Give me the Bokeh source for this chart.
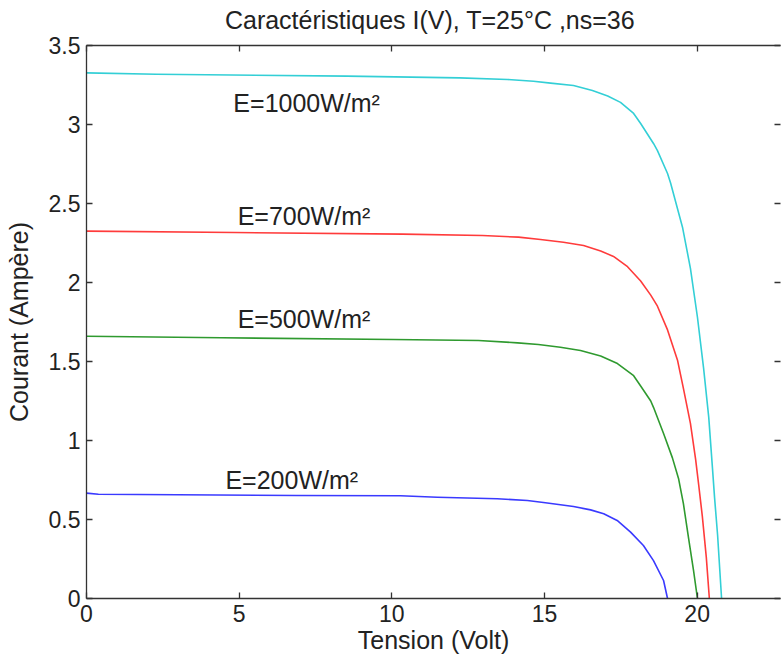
from bokeh.plotting import figure
from bokeh.models import LinearAxis, FixedTicker, Range1d, Label
from bokeh.embed import file_html
from bokeh.resources import INLINE

# ---- data ----
v_1000 = [0.00, 2.29, 8.52, 12.22, 13.79, 14.64, 15.20, 15.95, 16.57, 17.07, 17.49, 17.92,
          18.15, 18.57, 18.70, 19.03, 19.13, 19.52, 19.78, 20.01, 20.21, 20.38, 20.50, 20.57,
          20.67, 20.80]
i_1000 = [3.327, 3.318, 3.306, 3.295, 3.285, 3.274, 3.262, 3.247, 3.215, 3.18, 3.14, 3.07,
          3.006, 2.88, 2.835, 2.69, 2.63, 2.35, 2.09, 1.78, 1.46, 1.146, 0.83, 0.64,
          0.40, 0.0]

v_700 = [0.00, 4.85, 10.35, 12.97, 14.15, 14.87, 15.62, 16.28, 16.84, 17.26, 17.72, 18.15,
         18.48, 18.70, 19.03, 19.36, 19.55, 19.78, 19.95, 20.05, 20.17, 20.30, 20.40]
i_700 = [2.325, 2.316, 2.306, 2.297, 2.287, 2.272, 2.255, 2.234, 2.20, 2.165, 2.10, 2.01,
         1.92, 1.85, 1.70, 1.506, 1.33, 1.108, 0.88, 0.72, 0.52, 0.26, 0.0]

v_500 = [0.00, 4.42, 10.05, 12.84, 14.12, 14.80, 15.52, 16.18, 16.84, 17.39, 17.92, 18.15,
         18.48, 18.57, 18.90, 19.19, 19.39, 19.55, 19.72, 19.88, 20.01]
i_500 = [1.660, 1.650, 1.639, 1.633, 1.618, 1.608, 1.590, 1.570, 1.535, 1.487, 1.41, 1.345,
         1.25, 1.21, 1.044, 0.89, 0.76, 0.60, 0.38, 0.18, 0.0]

v_200 = [0.00, 0.39, 6.88, 10.28, 11.49, 13.45, 14.44, 15.03, 15.46, 15.95, 16.51, 16.94,
         17.38, 17.82, 18.24, 18.57, 18.90, 19.03]
i_200 = [0.667, 0.660, 0.652, 0.650, 0.641, 0.631, 0.620, 0.606, 0.595, 0.582, 0.561, 0.536,
         0.494, 0.42, 0.335, 0.24, 0.114, 0.0]

title_text = "Caractéristiques  I(V), T=25°C ,ns=36"
series_labels = ["E=1000W/m²", "E=700W/m²", "E=500W/m²", "E=200W/m²"]
x_ticks = [0, 5, 10, 15, 20]
y_ticks = [0, 0.5, 1, 1.5, 2, 2.5, 3, 3.5]
y_tick_labels = ["0", "0.5", "1", "1.5", "2", "2.5", "3", "3.5"]

# ---- styling / layout ----
FONT = "Liberation Sans"
AX = "#333333"
TXT = "#222222"
colors = ["#33cfd6", "#ff3b3b", "#2f9a2f", "#3a3aff"]
label_pos = [(4.81, 3.133), (4.95, 2.424), (4.95, 1.772), (4.55, 0.747)]

p = figure(width=781, height=660, output_backend="svg", toolbar_location=None,
           x_range=Range1d(0, 22.73), y_range=Range1d(0, 3.5),
           x_axis_location=None, y_axis_location=None)
p.min_border_left = 86
p.min_border_right = 1
p.min_border_top = 45
p.min_border_bottom = 62
p.outline_line_color = None
p.xgrid.visible = False
p.ygrid.visible = False
p.background_fill_color = "white"
p.border_fill_color = "white"
p.title.visible = False

def style_axis(ax, labels=True):
    ax.axis_line_color = AX
    ax.axis_line_width = 1.3
    ax.major_tick_line_color = AX
    ax.major_tick_line_width = 1.3
    ax.major_tick_in = 6
    ax.major_tick_out = 0
    ax.minor_tick_in = 0
    ax.minor_tick_out = 0
    ax.major_label_text_font = FONT
    ax.major_label_text_font_size = "23px"
    ax.major_label_text_color = TXT
    ax.axis_label_text_font = FONT
    ax.axis_label_text_font_size = "25px"
    ax.axis_label_text_font_style = "normal"
    ax.axis_label_text_color = TXT
    if not labels:
        ax.major_label_overrides = {t: "" for t in ax.ticker.ticks}
        ax.major_label_standoff = 0

xb = LinearAxis(ticker=FixedTicker(ticks=x_ticks), axis_label="Tension (Volt)")
style_axis(xb)
xb.major_label_standoff = 6
xb.axis_label_standoff = 1
p.add_layout(xb, "below")

yl = LinearAxis(ticker=FixedTicker(ticks=y_ticks), axis_label="Courant (Ampère)")
style_axis(yl)
yl.major_label_overrides = {t: s for t, s in zip(y_ticks, y_tick_labels)}
yl.major_label_standoff = 6
yl.axis_label_standoff = 13
p.add_layout(yl, "left")

# top axis: inward ticks, no tick labels, carries the chart title
xt = LinearAxis(ticker=FixedTicker(ticks=x_ticks), axis_label=title_text)
style_axis(xt, labels=False)
xt.axis_label_standoff = 12
p.add_layout(xt, "above")

yr = LinearAxis(ticker=FixedTicker(ticks=y_ticks))
style_axis(yr, labels=False)
yr.axis_line_color = None
p.add_layout(yr, "right")

for v, i, c in zip([v_1000, v_700, v_500, v_200], [i_1000, i_700, i_500, i_200], colors):
    p.line(v, i, line_color=c, line_width=1.6, line_join="round")

for (lx, ly), s in zip(label_pos, series_labels):
    p.add_layout(Label(x=lx, y=ly, text=s, text_font=FONT, text_font_size="25px",
                       text_color=TXT, text_baseline="alphabetic", text_align="left"))

open("out.html", "w").write(file_html(p, INLINE))
